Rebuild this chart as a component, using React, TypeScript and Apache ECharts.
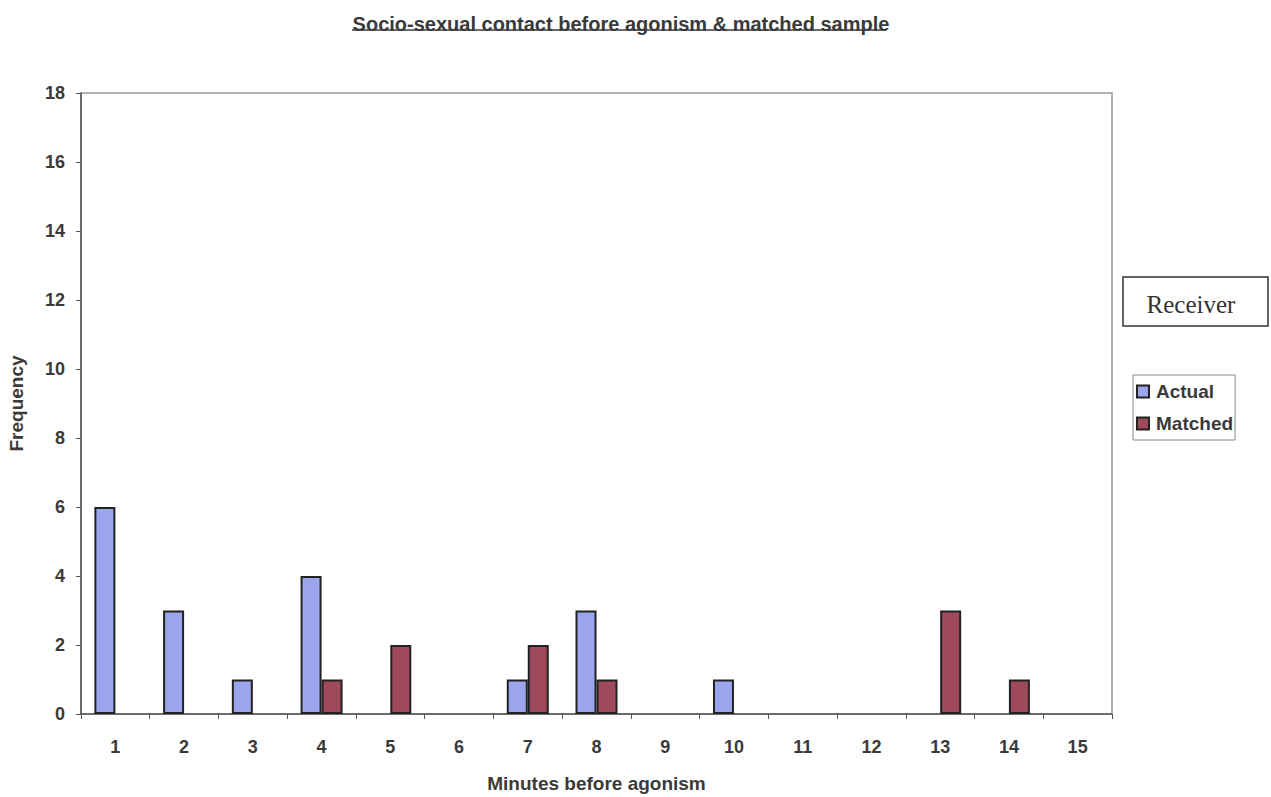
import React, { useEffect, useRef } from "react";
import * as echarts from "echarts";

const categories = ["1", "2", "3", "4", "5", "6", "7", "8", "9", "10", "11", "12", "13", "14", "15"];
const actual = [6, 3, 1, 4, 0, 0, 1, 3, 0, 1, 0, 0, 0, 0, 0];
const matched = [0, 0, 0, 1, 2, 0, 2, 1, 0, 0, 0, 0, 3, 1, 0];
const titleText = "Socio-sexual contact before agonism & matched sample";

const hideZero = (arr: number[]) => arr.map((v) => (v === 0 ? null : v));

export default function App() {
  const ref = useRef<HTMLDivElement>(null);
  useEffect(() => {
    const chart = echarts.init(ref.current!, undefined, { renderer: "svg" });
    const font = "Arial, 'Liberation Sans', sans-serif";
    chart.setOption({
      animation: false,
      backgroundColor: "#ffffff",
      title: {
        text: titleText,
        left: 616,
        textAlign: "center",
        top: 9,
        textStyle: { fontFamily: font, fontSize: 20, fontWeight: "bold", color: "#3a3a3a" },
      },
      grid: {
        left: 81,
        right: 159,
        top: 93,
        bottom: 83,
        show: true,
        borderColor: "#999",
        borderWidth: 1.5,
        outerBoundsMode: "none",
        containLabel: false,
      },
      legend: {
        orient: "vertical",
        left: 1133,
        top: 375,
        itemWidth: 12,
        itemHeight: 12,
        itemGap: 13,
        padding: [7, 2, 7, 3],
        borderColor: "#888",
        borderWidth: 1,
        textStyle: { fontFamily: font, fontSize: 19, fontWeight: "bold", color: "#3a3a3a", padding: [0, 0, 0, 2] },
        data: [
          { name: "Actual", icon: "rect" },
          { name: "Matched", icon: "rect" },
        ],
      },
      xAxis: {
        type: "category",
        data: categories,
        name: "Minutes before agonism",
        nameLocation: "middle",
        nameGap: 60,
        nameTextStyle: { fontFamily: font, fontSize: 19, fontWeight: "bold", color: "#3a3a3a" },
        axisLine: { lineStyle: { color: "#555", width: 1.5 } },
        axisTick: { show: true, length: 5, lineStyle: { color: "#555" } },
        axisLabel: { fontFamily: font, fontSize: 18, fontWeight: "bold", color: "#3a3a3a", margin: 24 },
      },
      yAxis: {
        type: "value",
        min: 0,
        max: 18,
        interval: 2,
        name: "Frequency",
        nameLocation: "middle",
        nameGap: 55,
        nameTextStyle: { fontFamily: font, fontSize: 19, fontWeight: "bold", color: "#3a3a3a" },
        axisLine: { show: true, lineStyle: { color: "#555", width: 1.5 } },
        axisTick: { show: true, length: 5, lineStyle: { color: "#555" } },
        splitLine: { show: false },
        axisLabel: { fontFamily: font, fontSize: 18, fontWeight: "bold", color: "#3a3a3a", margin: 16 },
      },
      series: [
        {
          name: "Actual",
          type: "bar",
          data: hideZero(actual),
          barWidth: 21,
          barGap: "0%",
          itemStyle: { color: "#9ba5ee", borderColor: "#222", borderWidth: 2 },
        },
        {
          name: "Matched",
          type: "bar",
          data: hideZero(matched),
          barWidth: 21,
          barGap: "0%",
          itemStyle: { color: "#9e4a5c", borderColor: "#222", borderWidth: 2 },
        },
      ],
      graphic: [
        {
          type: "line",
          shape: { x1: 352, y1: 30, x2: 886, y2: 30 },
          style: { stroke: "#3a3a3a", lineWidth: 1.5 },
        },
        {
          type: "rect",
          shape: { x: 1123, y: 277, width: 145, height: 49 },
          style: { fill: "#fff", stroke: "#333", lineWidth: 1.5 },
        },
        {
          type: "text",
          x: 1191,
          y: 304,
          style: {
            text: "Receiver",
            font: "25px 'Liberation Serif', 'Times New Roman', serif",
            fill: "#333",
            align: "center",
            verticalAlign: "middle",
          },
        },
      ],
    });
    return () => chart.dispose();
  }, []);
  return <div ref={ref} style={{ position: "fixed", left: 0, top: 0, width: 1271, height: 797 }} />;
}
